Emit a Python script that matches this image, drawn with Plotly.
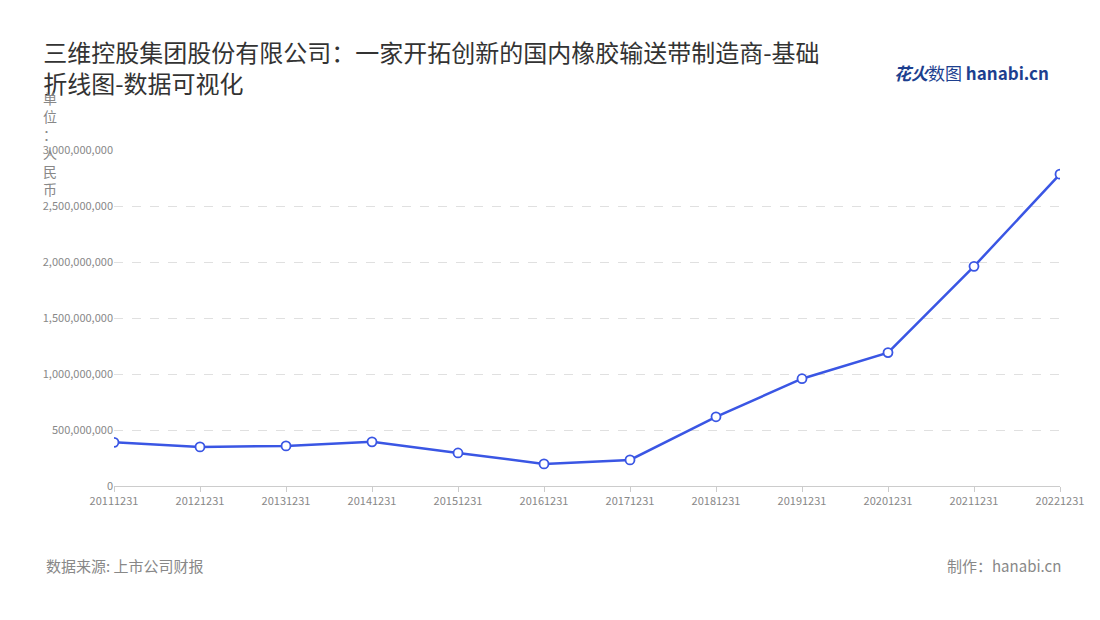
import plotly.graph_objects as go

years = ["20111231","20121231","20131231","20141231","20151231","20161231","20171231","20181231","20191231","20201231","20211231","20221231"]
values = [390e6, 349e6, 358e6, 394e6, 295e6, 197e6, 233e6, 618e6, 958e6, 1191e6, 1961e6, 2784e6]
yticks = [0, 500e6, 1000e6, 1500e6, 2000e6, 2500e6, 3000e6]

fig = go.Figure(go.Scatter(
    x=years, y=values, mode="lines+markers",
    line=dict(color="#3a56e4", width=2.5),
    marker=dict(size=9, color="white", line=dict(color="#3a56e4", width=1.8)),
    hoverinfo="x+y"))

font = "Noto Sans CJK SC"
fig.update_layout(
    width=1100, height=620, plot_bgcolor="white", paper_bgcolor="white",
    margin=dict(l=106, r=48, t=142, b=142),
    font=dict(family=font, color="#999", size=11),
    showlegend=False,
    title=dict(text="三维控股集团股份有限公司：一家开拓创新的国内橡胶输送带制造商-基础<br>折线图-数据可视化",
               x=0.032, xanchor="left", y=0.913, yanchor="top",
               font=dict(size=24, color="#333", family=font)),
    xaxis=dict(type="category", showgrid=False, showline=True, linecolor="#ccc",
               ticks="outside", ticklen=5, tickcolor="#ccc", range=[0, 11],
               tickfont=dict(size=11, color="#888")),
    yaxis=dict(range=[0, 3000e6], tickvals=yticks,
               ticktext=[f"{int(v):,}" for v in yticks],
               showgrid=True, gridcolor="#e0e0e0", griddash="dash", zeroline=False,
               tickfont=dict(size=11, color="#888")),
    annotations=[
        dict(text="单<br>位<br>：<br>人<br>民<br>币", xref="paper", yref="paper", x=-0.068, y=1.19,
             xanchor="center", yanchor="top", showarrow=False, font=dict(size=14, color="#888")),
        dict(text="数据来源: 上市公司财报", xref="paper", yref="paper", x=-0.074, y=-0.275,
             xanchor="left", showarrow=False, font=dict(size=15, color="#888")),
        dict(text="制作：hanabi.cn", xref="paper", yref="paper", x=1.003, y=-0.275,
             xanchor="right", showarrow=False, font=dict(size=15, color="#888")),
        dict(text="<b><i>花火</i></b>数图 <b>hanabi.cn</b>", xref="paper", yref="paper", x=0.99, y=1.275,
             xanchor="right", showarrow=False, font=dict(size=17, color="#1d3f8f")),
    ])
fig.write_html("out.html")
